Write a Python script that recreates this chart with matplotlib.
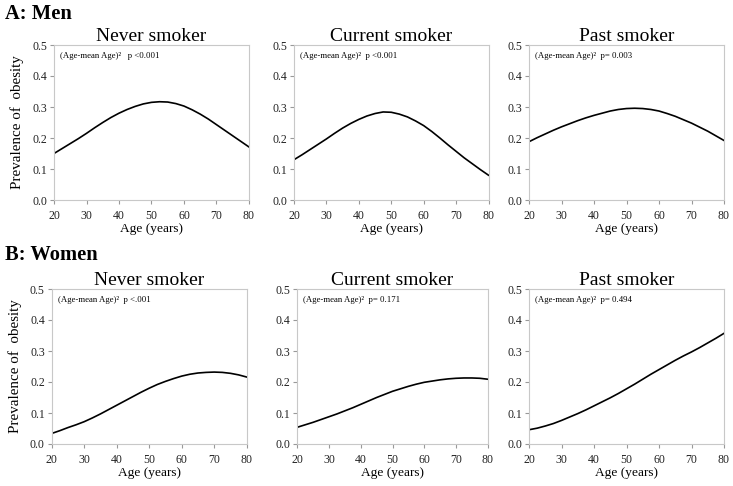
import matplotlib
matplotlib.use("Agg")
import matplotlib.pyplot as plt

# ages read every 2.5 years off the curves
ages = [20, 22.5, 25, 27.5, 30, 32.5, 35, 37.5, 40, 42.5, 45, 47.5, 50,
        52.5, 55, 57.5, 60, 62.5, 65, 67.5, 70, 72.5, 75, 77.5, 80]

men_never = [0.150, 0.166, 0.182, 0.198, 0.215, 0.233, 0.250, 0.266, 0.280, 0.292, 0.302, 0.310, 0.315,
             0.317, 0.316, 0.311, 0.303, 0.291, 0.277, 0.261, 0.243, 0.225, 0.207, 0.189, 0.171]
men_current = [0.130, 0.146, 0.163, 0.180, 0.197, 0.215, 0.232, 0.247, 0.260, 0.271, 0.279, 0.284, 0.283,
               0.277, 0.268, 0.255, 0.240, 0.221, 0.200, 0.178, 0.157, 0.136, 0.117, 0.098, 0.080]
men_past = [0.188, 0.201, 0.213, 0.225, 0.236, 0.246, 0.256, 0.265, 0.273, 0.280, 0.287, 0.292, 0.295,
            0.296, 0.295, 0.292, 0.287, 0.279, 0.270, 0.259, 0.248, 0.235, 0.222, 0.207, 0.192]

women_never = [0.034, 0.043, 0.053, 0.062, 0.072, 0.084, 0.097, 0.111, 0.125, 0.139, 0.153, 0.167, 0.180,
               0.192, 0.202, 0.211, 0.219, 0.225, 0.229, 0.231, 0.232, 0.231, 0.228, 0.223, 0.216]
women_current = [0.054, 0.062, 0.070, 0.079, 0.088, 0.097, 0.107, 0.117, 0.128, 0.139, 0.150, 0.160, 0.170,
                 0.178, 0.186, 0.193, 0.199, 0.203, 0.207, 0.210, 0.212, 0.213, 0.213, 0.212, 0.209]
women_past = [0.046, 0.051, 0.058, 0.066, 0.076, 0.087, 0.098, 0.110, 0.123, 0.136, 0.149, 0.163, 0.178,
              0.193, 0.209, 0.225, 0.240, 0.255, 0.270, 0.284, 0.297, 0.311, 0.326, 0.341, 0.357]

titles = ["Never smoker", "Current smoker", "Past smoker"]
men_notes = ["(Age-mean Age)\u00b2   p <0.001", "(Age-mean Age)\u00b2  p <0.001", "(Age-mean Age)\u00b2  p= 0.003"]
women_notes = ["(Age-mean Age)\u00b2  p <.001", "(Age-mean Age)\u00b2  p= 0.171", "(Age-mean Age)\u00b2  p= 0.494"]

plt.rcParams['font.family'] = ['Liberation Serif', 'DejaVu Serif']

W, H = 733, 486
fig = plt.figure(figsize=(W / 100, H / 100), dpi=100)

# axes boxes in pixels: (left, right, top, bottom)
top_boxes = [(54, 249, 45, 200), (294, 488.5, 45, 200), (529, 724, 45, 200)]
bot_boxes = [(51.7, 246.7, 289, 444), (297.3, 487.7, 289, 444), (529, 724, 289, 444)]

rows = [
    (top_boxes, [men_never, men_current, men_past], men_notes),
    (bot_boxes, [women_never, women_current, women_past], women_notes),
]

spine_col = '#c8c8c8'

for boxes, series, notes in rows:
    for i, (l, r, t, b) in enumerate(boxes):
        ax = fig.add_axes([l / W, 1 - b / H, (r - l) / W, (b - t) / H])
        ax.plot(ages, series[i], color='black', lw=1.2)
        ax.set_xlim(20, 80)
        ax.set_ylim(0, 0.5)
        ax.set_xticks([20, 30, 40, 50, 60, 70, 80])
        ax.set_yticks([0.0, 0.1, 0.2, 0.3, 0.4, 0.5])
        ax.set_yticklabels(['0.0', '0.1', '0.2', '0.3', '0.4', '0.5'])
        for s in ax.spines.values():
            s.set_color(spine_col)
            s.set_linewidth(0.8)
        ax.tick_params(direction='out', length=3, width=0.8, color='#999999',
                       labelsize=8.5, labelcolor='#222222')
        ax.tick_params(axis='x', pad=4)
        ax.tick_params(axis='y', pad=2)
        ax.set_title(titles[i], fontsize=14, pad=3)
        ax.set_xlabel('Age (years)', fontsize=9.6, labelpad=1)
        if i == 0:
            ax.set_ylabel('Prevalence of  obesity', fontsize=10.8, labelpad=6)
        ax.text(0.03, 0.93, notes[i], transform=ax.transAxes, fontsize=6.3,
                va='center', ha='left')

fig.text(5 / W, 1 - 4 / H, 'A: Men', fontsize=14.8, fontweight='bold', va='top', ha='left')
fig.text(5 / W, 1 - 245 / H, 'B: Women', fontsize=14.8, fontweight='bold', va='top', ha='left')

fig.savefig('out.png', dpi=100)
